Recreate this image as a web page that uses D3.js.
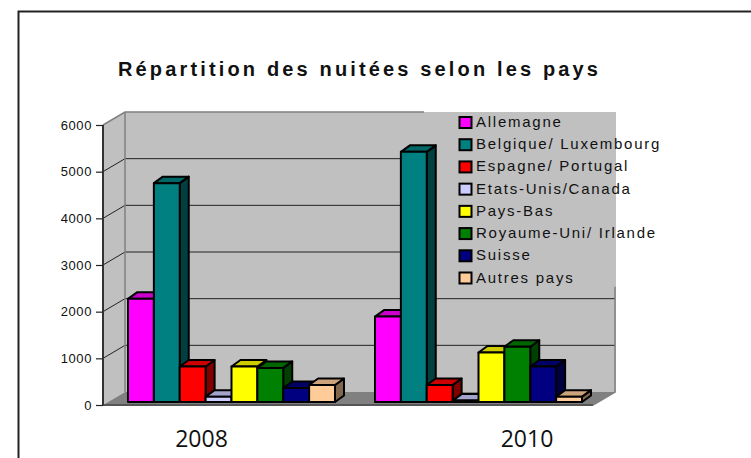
<!DOCTYPE html>
<html><head><meta charset="utf-8">
<script src="https://cdn.jsdelivr.net/npm/d3@7/dist/d3.min.js"></script>
<style>html,body{margin:0;padding:0;background:#fff}svg{display:block}text{font-family:"Liberation Sans",Arial,sans-serif;fill:#111}</style>
</head><body><div id="chart"></div>
<script>
const years = ["2008","2010"];
const seriesNames = ["Allemagne","Belgique/ Luxembourg","Espagne/ Portugal","Etats-Unis/Canada","Pays-Bas","Royaume-Uni/ Irlande","Suisse","Autres pays"];
const seriesColors = ["#FF00FF","#008080","#FF0000","#CCCCFF","#FFFF00","#008000","#000080","#FFCC99"];
const values2008 = [2210,4690,760,115,760,730,300,365];
const values2010 = [1830,5360,365,30,1060,1185,760,115];
const yTicks = [0,1000,2000,3000,4000,5000,6000];
const titleText = "Répartition des nuitées selon les pays";

const W=751,H=458;
const svg=d3.select("#chart").append("svg").attr("width",W).attr("height",H);
const y=d3.scaleLinear().domain([0,6000]).range([405,125]);
const x0=d3.scaleBand().domain(years).range([128,582]).paddingInner(0.162);
const x1=d3.scaleBand().domain(seriesNames).range([0,x0.bandwidth()]);
const xLabel=d3.scalePoint().domain(years).range([201.5,527]);
const wall={dx:22,dy:-13}, left=103, right=593, legendLeft=424, bar={dx:9,dy:-6.5,base:-3};
const pts=a=>a.map(p=>p.join(",")).join(" ");

// outer frame
svg.append("path").attr("d",`M18.5,${H}V11.5H${W}`).attr("fill","none").attr("stroke","#222").attr("stroke-width",2);
// title
svg.append("text").attr("x",118).attr("y",76).attr("font-size",20).attr("font-weight",700).attr("letter-spacing",3.15).text(titleText);

const topY=y(6000),botY=y(0),bL=left+wall.dx,bR=right+wall.dx+1;
// back wall, side wall, floor
svg.append("polygon").attr("points",pts([[bL,topY+wall.dy],[bR,topY+wall.dy],[bR,botY+wall.dy],[bL,botY+wall.dy]])).attr("fill","#C0C0C0");
svg.append("polygon").attr("points",pts([[left,botY],[left,topY],[bL,topY+wall.dy],[bL,botY+wall.dy]])).attr("fill","#C0C0C0");
svg.append("polygon").attr("points",pts([[left,botY],[bL,botY+wall.dy],[bR,botY+wall.dy],[right,botY]])).attr("fill","#808080");
// gridlines
yTicks.filter(v=>v>0&&v<6000).forEach(v=>{
  const yy=y(v), end=v<=2000?bR-1:legendLeft;
  svg.append("path").attr("d",`M${left},${yy}L${bL},${yy+wall.dy}H${end}`).attr("fill","none").attr("stroke","#222").attr("stroke-width",1);
});
// wall edges
svg.append("path").attr("d",`M${left},${topY}L${bL},${topY+wall.dy}H${legendLeft}M${bL},${topY+wall.dy}V${botY+wall.dy}`).attr("fill","none").attr("stroke","#808080").attr("stroke-width",1.5);
svg.append("path").attr("d",`M${bR-1},${y(2000)-25}V${botY+wall.dy}L${right},${botY}`).attr("fill","none").attr("stroke","#808080").attr("stroke-width",1.5);
svg.append("path").attr("d",`M${left},${botY}H${right}`).attr("stroke","#555").attr("stroke-width",2);
// y axis
const yAxis=d3.axisLeft(y).tickValues(yTicks).tickSize(7).tickPadding(4).tickFormat(d3.format("d"));
const ag=svg.append("g").attr("transform",`translate(${left},0)`).call(yAxis);
ag.select(".domain").attr("stroke","#333").attr("stroke-width",2).attr("d",`M0,${botY}V${topY}`);
ag.selectAll(".tick line").attr("stroke","#222").attr("stroke-width",1.2);
ag.selectAll("text").attr("font-size",13).attr("letter-spacing",0.6).style("font-family",'"Liberation Sans",Arial,sans-serif').attr("fill","#111");

// bars
const shade=(c,k)=>{const r=d3.rgb(c);return d3.rgb(r.r*k,r.g*k,r.b*k).formatHex();};
[values2008,values2010].forEach((vals,gi)=>{
  vals.forEach((v,i)=>{
    const a=x0(years[gi])+x1(seriesNames[i]), b=a+x1.bandwidth();
    const base=y(0)+bar.base, t=y(v)+bar.base;
    const g=svg.append("g").attr("stroke","#000").attr("stroke-width",2).attr("stroke-linejoin","round");
    g.append("polygon").attr("points",pts([[b,t],[b+bar.dx,t+bar.dy],[b+bar.dx,base+bar.dy],[b,base]])).attr("fill",shade(seriesColors[i],0.5));
    g.append("polygon").attr("points",pts([[a,t],[a+bar.dx,t+bar.dy],[b+bar.dx,t+bar.dy],[b,t]])).attr("fill",shade(seriesColors[i],0.8));
    g.append("rect").attr("x",a).attr("y",t).attr("width",b-a).attr("height",base-t).attr("fill",seriesColors[i]);
  });
});

// legend
const ly=d3.scalePoint().domain(seriesNames).range([122.5,278]);
seriesNames.forEach((n,i)=>{
  svg.append("rect").attr("x",459.5).attr("y",ly(n)-5.5).attr("width",12).attr("height",11).attr("fill",seriesColors[i]).attr("stroke","#000").attr("stroke-width",2);
  svg.append("text").attr("x",476).attr("y",ly(n)+4.5).attr("font-size",15).attr("letter-spacing",1.75).text(n);
});
// year labels
years.forEach(yr=>{
  svg.append("text").attr("x",xLabel(yr)).attr("y",447).attr("text-anchor","middle").attr("font-size",23).style("font-family","'Open Sans',sans-serif").attr("fill","#111").text(yr);
});
</script></body></html>
